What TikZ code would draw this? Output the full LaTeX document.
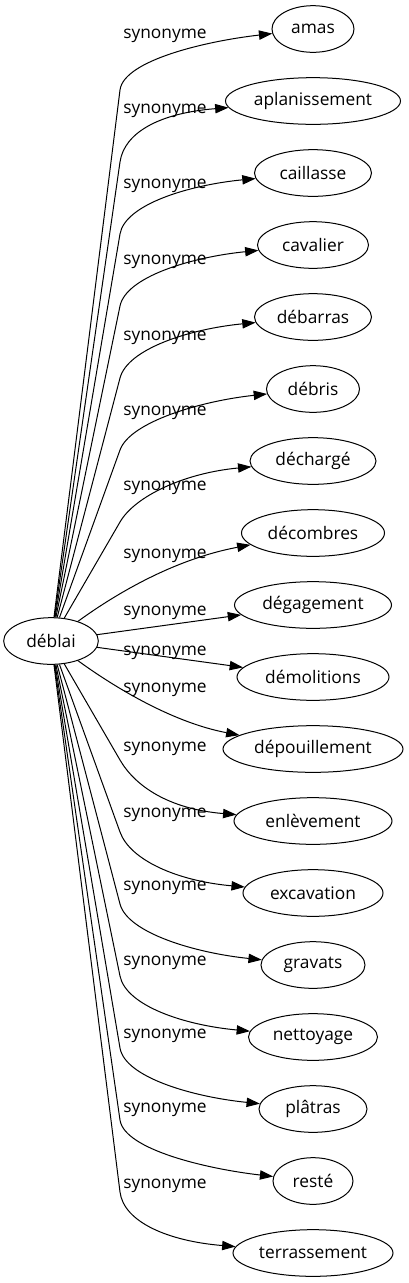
\documentclass[tikz,border=0pt]{standalone}
\usepackage{fontspec}
\setmainfont{Open Sans}
\usetikzlibrary{shapes.geometric,arrows.meta,calc}

\tikzset{
  word/.style={ellipse, draw, line width=0.75pt, minimum height=35pt,
    inner xsep=0pt, inner ysep=0pt, font=\fontsize{13}{15}\selectfont},
  rel/.style={inner sep=0pt, anchor=base, font=\fontsize{13}{15}\selectfont},
  syn/.style={line width=0.75pt, -{Triangle[length=10pt,width=7pt]}}
}

\begin{document}
\begin{tikzpicture}[x=0.75pt,y=-0.75pt]
  \useasboundingbox (0,0) rectangle (408,1283);

  % Source word
  \node[word, minimum width=71pt] (deblai) at (51,641) {déblai};

  % Synonyms, their labels and the edges to them
  \foreach \nm/\txt/\ew/\ly/\k [count=\i from 0] in {
      amas/amas/82/33/2, aplan/aplanissement/175/108/2,
      caill/caillasse/117/183/2, caval/cavalier/111/259/2,
      debar/débarras/117/335/2, debri/débris/93/410/2,
      decha/déchargé/126/485/2, decom/décombres/143/553/1,
      degag/dégagement/157/610/0, demol/démolitions/152/650/0,
      depou/dépouillement/180/687/1, enlev/enlèvement/158/746/2,
      excav/excavation/140/812/2, grava/gravats/104/885/2,
      netto/nettoyage/129/960/2, platr/plâtras/108/1033/2,
      reste/resté/80/1107/2, terra/terrassement/160/1183/2}{
    \pgfmathsetmacro\ty{29+72*\i}
    \pgfmathsetmacro\sg{ifthenelse(\i<9,-1,1)}
    \node[word, minimum width=\ew*0.75pt] (\nm) at (313,\ty) {\txt};
    \node[rel] (l\nm) at (165,\ly+5) {synonyme};
    \ifcase\k
      \draw[syn] (deblai) -- (\nm);
    \or
      \draw[syn] (deblai) .. controls (110,{641+43*\sg}) and (170,{641+81*\sg}) .. (\nm);
    \or
      \pgfmathsetmacro\oy{-12*\sg}
      \coordinate (b\nm) at (120,{\ty-61*\sg});
      \draw[syn] (deblai) -- (b\nm)
        .. controls ($(b\nm)!-22.5pt!(deblai.center)$) and ($(\nm.west)+(-65,\oy)$) .. (\nm);
    \fi
  }
\end{tikzpicture}
\end{document}
